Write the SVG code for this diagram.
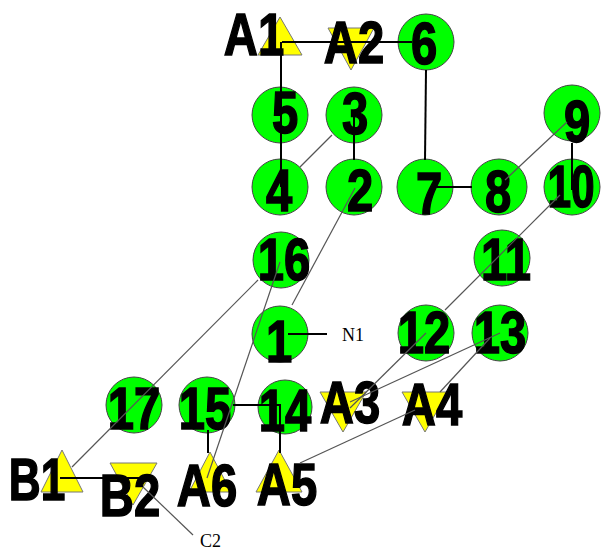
<svg xmlns="http://www.w3.org/2000/svg" width="601" height="552" viewBox="0 0 601 552">
<style>
.c{fill:#00ff00;stroke:#444;stroke-width:1}
.t{fill:#ffff00;stroke:#777;stroke-width:1}
.l{font-family:"Liberation Sans",Arial,sans-serif;font-weight:bold;font-size:59px;text-anchor:middle;fill:#000;stroke:#000;stroke-width:1.5}
.s{font-family:"Liberation Serif","Times New Roman",serif;font-size:18px;fill:#000}
.k{stroke:#000;stroke-width:2;fill:none}
.g{stroke:#555;stroke-width:1.2;fill:none}
</style>
<g id="A1"><polygon class="t" points="280,17 258,55 302,55"/><text class="l" transform="translate(254,55) scale(0.8,1)">A1</text></g>
<g id="A2"><polygon class="t" points="328,28 374,28 351,70"/><text class="l" transform="translate(354,63) scale(0.8,1)">A2</text></g>
<g id="n6"><circle class="c" cx="426" cy="42" r="28"/><text class="l" transform="translate(424,64) scale(0.8,1)">6</text></g>
<g id="n5"><circle class="c" cx="280" cy="115" r="28"/><text class="l" transform="translate(285,133) scale(0.8,1)">5</text></g>
<g id="n3"><circle class="c" cx="354" cy="115" r="28"/><text class="l" transform="translate(355,134) scale(0.8,1)">3</text></g>
<g id="n4"><circle class="c" cx="280" cy="187" r="28"/><text class="l" transform="translate(279,211) scale(0.8,1)">4</text></g>
<g id="n2"><circle class="c" cx="354" cy="187" r="28"/><text class="l" transform="translate(360,211) scale(0.8,1)">2</text></g>
<g id="n7"><circle class="c" cx="425" cy="187" r="28"/><text class="l" transform="translate(429,214) scale(0.8,1)">7</text></g>
<g id="n8"><circle class="c" cx="499" cy="187" r="28"/><text class="l" transform="translate(498,212) scale(0.8,1)">8</text></g>
<g id="n9"><circle class="c" cx="572" cy="113" r="28"/><text class="l" transform="translate(577,142) scale(0.8,1)">9</text></g>
<g id="n10"><circle class="c" cx="572" cy="187" r="28"/><text class="l" transform="translate(571,207) scale(0.72,1)">10</text></g>
<g id="n11"><circle class="c" cx="502" cy="258" r="28"/><text class="l" transform="translate(506,280) scale(0.8,1)">11</text></g>
<g id="n16"><circle class="c" cx="281" cy="260" r="28"/><text class="l" transform="translate(284,280) scale(0.8,1)">16</text></g>
<g id="n1"><circle class="c" cx="280" cy="334" r="28"/><text class="l" transform="translate(279,362) scale(0.8,1)">1</text></g>
<g id="N1"><text class="s" x="342" y="341">N1</text></g>
<g id="n12"><circle class="c" cx="426" cy="333" r="28"/><text class="l" transform="translate(424,353) scale(0.8,1)">12</text></g>
<g id="n13"><circle class="c" cx="500" cy="333" r="28"/><text class="l" transform="translate(500,353) scale(0.8,1)">13</text></g>
<g id="n17"><circle class="c" cx="134" cy="405" r="28"/><text class="l" transform="translate(134,429) scale(0.8,1)">17</text></g>
<g id="n15"><circle class="c" cx="207" cy="405" r="28"/><text class="l" transform="translate(205,429) scale(0.8,1)">15</text></g>
<g id="n14"><circle class="c" cx="285" cy="407" r="27"/><text class="l" transform="translate(285,431) scale(0.8,1)">14</text></g>
<g id="A3"><polygon class="t" points="320,392 366,392 343,432"/><text class="l" transform="translate(350,423) scale(0.8,1)">A3</text></g>
<g id="A4"><polygon class="t" points="402,392 448,392 425,432"/><text class="l" transform="translate(432,425) scale(0.8,1)">A4</text></g>
<g id="B1"><polygon class="t" points="62,450 41,492 83,492"/><text class="l" transform="translate(37,500) scale(0.75,1)">B1</text></g>
<g id="B2"><polygon class="t" points="110,463 157,463 133,505"/><text class="l" transform="translate(130,516) scale(0.8,1)">B2</text></g>
<g id="A6"><polygon class="t" points="210,452 189,492 231,492"/><text class="l" transform="translate(207,506) scale(0.8,1)">A6</text></g>
<g id="A5"><polygon class="t" points="279,450 256,492 302,492"/><text class="l" transform="translate(287,505) scale(0.8,1)">A5</text></g>
<g id="C2"><text class="s" x="200" y="547">C2</text></g>
<g id="connectors">
<line class="k" x1="282" y1="42" x2="412" y2="42"/>
<line class="k" x1="281" y1="42" x2="281" y2="187"/>
<line class="k" x1="354" y1="115" x2="354" y2="160"/>
<line class="k" x1="426" y1="70" x2="425" y2="160"/>
<line class="k" x1="433" y1="187" x2="472" y2="187"/>
<line class="k" x1="572" y1="143" x2="572" y2="190"/>
<line class="k" x1="288" y1="334" x2="327" y2="334"/>
<line class="k" x1="233" y1="405" x2="281" y2="405"/>
<line class="k" x1="208" y1="430" x2="208" y2="453"/>
<line class="k" x1="280" y1="405" x2="280" y2="453"/>
<line class="k" x1="60" y1="478" x2="140" y2="478"/>
<line class="g" x1="300" y1="167" x2="332" y2="135"/>
<line class="g" x1="505" y1="180" x2="567" y2="122"/>
<line class="g" x1="560" y1="195" x2="445" y2="310"/>
<line class="g" x1="355" y1="188" x2="292" y2="305"/>
<line class="g" x1="280" y1="262" x2="207" y2="478"/>
<line class="g" x1="258" y1="280" x2="72" y2="467"/>
<line class="g" x1="426" y1="333" x2="350" y2="408"/>
<line class="g" x1="500" y1="333" x2="350" y2="402"/>
<line class="g" x1="490" y1="338" x2="440" y2="392"/>
<line class="g" x1="415" y1="410" x2="300" y2="463"/>
<line class="g" x1="143" y1="487" x2="193" y2="535"/>
</g>
</svg>
